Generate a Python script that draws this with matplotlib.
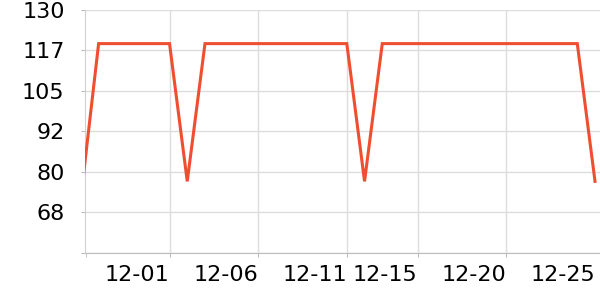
import matplotlib
matplotlib.use("Agg")
import matplotlib.pyplot as plt
import pandas as pd

plt.rc("font", family="DejaVu Sans", size=16)

# daily values
dates = ["2023-11-26", "2023-11-27", "2023-11-28", "2023-11-29", "2023-11-30",
         "2023-12-01", "2023-12-02", "2023-12-03", "2023-12-04", "2023-12-05",
         "2023-12-06", "2023-12-07", "2023-12-08", "2023-12-09", "2023-12-10",
         "2023-12-11", "2023-12-12", "2023-12-13", "2023-12-14", "2023-12-15",
         "2023-12-16", "2023-12-17", "2023-12-18", "2023-12-19", "2023-12-20",
         "2023-12-21", "2023-12-22", "2023-12-23", "2023-12-24", "2023-12-25"]
values = [72, 119.6, 119.6, 119.6, 119.6,
          119.6, 77, 119.6, 119.6, 119.6,
          119.6, 119.6, 119.6, 119.6, 119.6,
          119.6, 77, 119.6, 119.6, 119.6,
          119.6, 119.6, 119.6, 119.6, 119.6,
          119.6, 119.6, 119.6, 119.6, 77]

x_ticks = ["2023-12-01", "2023-12-06", "2023-12-11", "2023-12-15", "2023-12-20", "2023-12-25"]
x_labels = ["12-01", "12-06", "12-11", "12-15", "12-20", "12-25"]
y_ticks = [55, 67.5, 80, 92.5, 105, 117.5, 130]
y_labels = ["", "68", "80", "92", "105", "117", "130"]

x = pd.to_datetime(dates)
xt = pd.to_datetime(x_ticks)

fig = plt.figure(figsize=(6, 3), dpi=100)
ax = fig.add_axes([0.1425, 0.1583, 0.8575, 0.8084])

ax.plot(x, values, color="#f04e30", linewidth=2.2, solid_joinstyle="miter", zorder=3)

x_left = pd.Timestamp("2023-11-26 06:15")
x_right = pd.Timestamp("2023-12-25 06:45")
ax.set_xlim(x_left, x_right)
ax.set_ylim(55, 130)

ax.set_xticks(xt)
ax.set_xticklabels(x_labels, ha="right")
ax.set_xticks([x_left], minor=True)
ax.set_yticks(y_ticks)
ax.set_yticklabels(y_labels)

ax.grid(True, color="#dddddd", linewidth=1)
# last date sits on the right edge: no grid line, no tick mark
ax.get_xgridlines()[-1].set_visible(False)
ax.xaxis.get_major_ticks()[-1].tick1line.set_visible(False)
ax.set_axisbelow(True)

for s in ["top", "right"]:
    ax.spines[s].set_visible(False)
ax.spines["left"].set_color("#d0d0d0")
ax.spines["bottom"].set_color("#bbbbbb")
ax.tick_params(axis="y", length=3, color="#bbbbbb", pad=12)
ax.tick_params(axis="x", which="both", length=3, color="#bbbbbb", pad=6)

fig.savefig("out.png", dpi=100)
